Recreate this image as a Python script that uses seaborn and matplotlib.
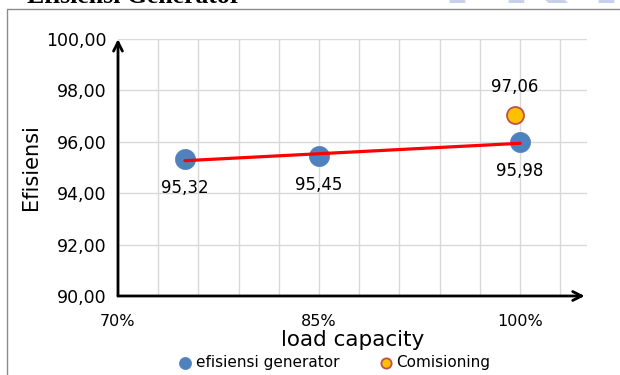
import numpy as np
import pandas as pd
import matplotlib
matplotlib.use("Agg")
import matplotlib.pyplot as plt
from matplotlib.ticker import FuncFormatter
from matplotlib.lines import Line2D
import seaborn as sns

# ==================== Data ====================
load = [0.75, 0.85, 1.00]
eff = [95.32, 95.45, 95.98]
com_load = [0.996]
com_eff = [97.06]
x_major = [0.70, 0.85, 1.00]
y_ticks = [90, 92, 94, 96, 98, 100]

df_gen = pd.DataFrame({"load": load, "eff": eff})
df_com = pd.DataFrame({"load": com_load, "eff": com_eff})

sns.set_style("white")
plt.rcParams['font.family'] = ['DejaVu Sans']
plt.rcParams.update({'text.color': 'black', 'axes.labelcolor': 'black',
                     'xtick.color': 'black', 'ytick.color': 'black'})

fig = plt.figure(figsize=(6.2, 3.75), dpi=100)
ax = fig.add_axes([0.1903, 0.2107, 0.7565, 0.685])

# grid
ax.set_xlim(0.70, 1.05)
ax.set_ylim(90, 100)
ax.set_xticks(x_major)
ax.set_xticks(np.arange(0.73, 1.04, 0.03), minor=True)
ax.set_yticks(y_ticks)
ax.grid(which='both', axis='x', color='#d9d9d9', lw=1)
ax.grid(which='major', axis='y', color='#d9d9d9', lw=1)
ax.set_axisbelow(True)
for s in ax.spines.values():
    s.set_visible(False)

ax.tick_params(axis='both', which='major', direction='out', length=5, width=2,
               color='black', labelsize=12.5, pad=3)
ax.tick_params(axis='x', which='major', labelsize=11.5, pad=8)
ax.tick_params(which='minor', length=0)
ax.xaxis.set_major_formatter(FuncFormatter(lambda v, p: f"{v*100:.0f}%"))
ax.yaxis.set_major_formatter(FuncFormatter(lambda v, p: f"{v:.2f}".replace('.', ',')))

# axis arrows
arrow = dict(arrowstyle='->', lw=2, color='black', shrinkA=0, shrinkB=0, mutation_scale=16)
ax.annotate('', xy=(0, 1.0), xytext=(0, 0), xycoords='axes fraction', arrowprops=arrow,
            annotation_clip=False)
ax.annotate('', xy=(0.995, 0), xytext=(0, 0), xycoords='axes fraction', arrowprops=arrow,
            annotation_clip=False)

# trend line + points
sns.regplot(data=df_gen, x="load", y="eff", ax=ax, ci=None, scatter=False, truncate=True,
            line_kws=dict(color='#ff0000', lw=2.3, zorder=3, label='_nolegend_'))
sns.scatterplot(data=df_gen, x="load", y="eff", ax=ax, s=210, color='#4f81bd',
                edgecolor='#4f81bd', linewidth=0.5, zorder=2, label='efisiensi generator')
sns.scatterplot(data=df_com, x="load", y="eff", ax=ax, s=150, color='#ffc000',
                edgecolor='#c0504d', linewidth=1.3, zorder=4, label='Comisioning')

for x, y in zip(load, eff):
    ax.annotate(f"{y:.2f}".replace('.', ','), (x, y), xytext=(0, -29),
                textcoords='offset pixels', ha='center', va='center', fontsize=12)
for x, y in zip(com_load, com_eff):
    ax.annotate(f"{y:.2f}".replace('.', ','), (x, y), xytext=(0, 28),
                textcoords='offset pixels', ha='center', va='center', fontsize=12)

ax.set_xlabel('load capacity', fontsize=15.5, labelpad=1)
ax.set_ylabel('Efisiensi', fontsize=15, labelpad=4)

leg = ax.legend(loc='center', bbox_to_anchor=(0.54, 0.032), bbox_transform=fig.transFigure,
                ncol=2, frameon=False, fontsize=11, handlelength=0.8, handletextpad=0.3,
                columnspacing=2.6, borderpad=0, markerscale=0.6)

# title (cut off at top) and frame
fig.text(0.044, 1 - 3 / 375, 'Efisiensi Generator', fontsize=18.5, fontweight='bold',
         family='Liberation Serif', ha='left', va='baseline')
fig.add_artist(Line2D([7 / 620, 7 / 620], [0, 1 - 9 / 375], color='#8c8c8c', lw=1))
fig.add_artist(Line2D([7 / 620, 1], [1 - 9 / 375, 1 - 9 / 375], color='#8c8c8c', lw=1))

# faint watermark letters at top right
for xf, ch in [(441, 'I'), (500, 'K'), (590, 'I')]:
    fig.text(xf / 620, 1 - 3 / 375, ch, fontsize=60, fontweight='bold', color='#c9d0ea',
             family='DejaVu Sans', ha='left', va='baseline', zorder=0)

fig.savefig('out.png', dpi=100)
